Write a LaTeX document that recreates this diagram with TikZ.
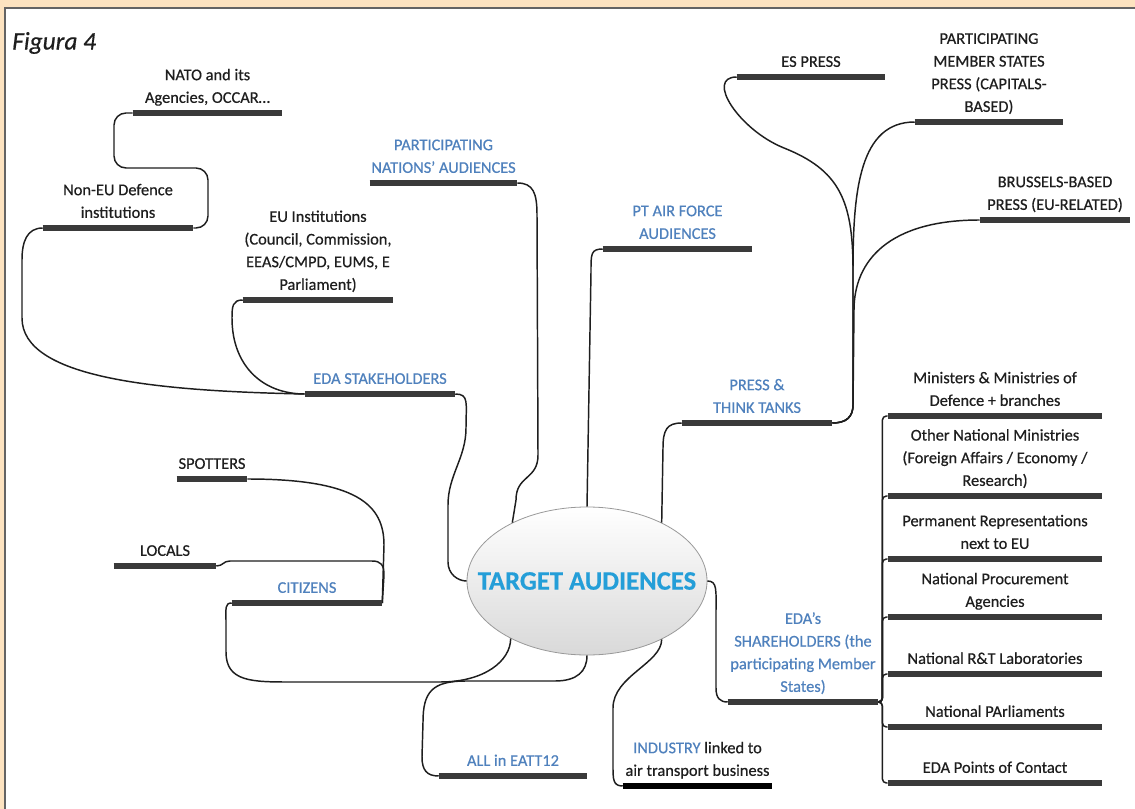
\documentclass[tikz,border=0pt]{standalone}
\usepackage{fontspec}
\setmainfont{Carlito}[FakeBold=0.5]
\usepackage{tikz}
\usetikzlibrary{shapes.geometric}
\definecolor{taBlue}{RGB}{79,129,189}
\definecolor{taCyan}{RGB}{36,158,216}
\definecolor{taBar}{RGB}{58,58,58}
\definecolor{taInk}{RGB}{30,30,30}
\definecolor{taFrame}{RGB}{253,227,192}
\definecolor{taEdge}{RGB}{100,100,100}

\begin{document}
\begin{tikzpicture}[x=0.75pt, y=-0.75pt,
  every node/.style={anchor=south, align=center, inner xsep=0pt, inner ysep=2.3pt, text=taInk, font=\fontsize{12.3}{17}\selectfont},
  topic/.style={minimum width=#1*0.75pt},
  sub/.style={minimum width=#1*0.75pt, text=taBlue},
  hub/.style={ellipse, anchor=center, inner sep=0pt, draw=black!40, line width=0.6pt, top color=white, bottom color=black!15, minimum width=180pt, minimum height=111pt, text=taCyan, font=\fontsize{20}{22}\selectfont\bfseries},
  link/.style={draw=taInk, line width=1.1pt},
  bar/.style={draw=taBar, line width=3.8pt}]
  \useasboundingbox (0,0) rectangle (1135,809);
  \fill[taFrame] (0,0) rectangle (1135,809);
  \fill[white] (5,8) rectangle (1135,809);
  \draw[taEdge, line width=1.2pt] (5,809) -- (5,8) -- (1135,8);

  \node[anchor=west, inner sep=0pt, font=\fontsize{19}{21}\selectfont\itshape] (figura) at (12,43) {Figura 4};

  \node[hub] (ta) at (587,581) {\makebox[0pt]{TARGET AUDIENCES}};

  \node[topic=149] (nato) at (207.5,113) {NATO and its\\Agencies, OCCAR\ldots\strut};
  \node[topic=150] (noneu) at (118,228) {Non-EU Defence\\institutions\strut};
  \node[topic=150] (euinst) at (318,300) {EU Institutions\\(Council, Commission,\\EEAS/CMPD, EUMS, E\\Parliament)\strut};
  \node[sub=147] (partn) at (443.5,183) {PARTICIPATING\\NATIONS' AUDIENCES\strut};
  \node[sub=149] (ptaf) at (677.5,249) {PT AIR FORCE\\AUDIENCES\strut};
  \node[sub=150] (edastk) at (380,394) {EDA STAKEHOLDERS\strut};
  \node[topic=70] (spotters) at (212,479) {SPOTTERS\strut};
  \node[topic=102] (locals) at (165,566) {LOCALS\strut};
  \node[sub=150] (citizens) at (307,603) {CITIZENS\strut};
  \node[sub=148] (all) at (513,776) {ALL in EATT12\strut};
  \node[topic=149] (industry) at (697.5,786) {{\color{taBlue}INDUSTRY} linked to\\air transport business\strut};
  \node[sub=150] (edash) at (803,702) {EDA's\\SHAREHOLDERS (the\\participating Member\\States)\strut};
  \node[sub=150] (press) at (757,423) {PRESS \&\\THINK TANKS\strut};
  \node[topic=148] (espress) at (811,77) {ES PRESS\strut};
  \node[topic=148] (pmspress) at (989,122) {PARTICIPATING\\MEMBER STATES\\PRESS (CAPITALS-\\BASED)\strut};
  \node[topic=150] (brussels) at (1055,220) {BRUSSELS-BASED\\PRESS (EU-RELATED)\strut};

  \node[topic=214] (mod) at (995,416) {Ministers \& Ministries of\\Defence + branches\strut};
  \node[topic=214] (othmin) at (995,496) {Other National Ministries\\(Foreign Affairs / Economy /\\Research)\strut};
  \node[topic=214] (permrep) at (995,559) {Permanent Representations\\next to EU\strut};
  \node[topic=214] (procure) at (995,617) {National Procurement\\Agencies\strut};
  \node[topic=214] (labs) at (995,674) {National R\&T Laboratories\strut};
  \node[topic=214] (parl) at (995,727) {National PArliaments\strut};
  \node[topic=214] (poc) at (995,783) {EDA Points of Contact\strut};

  \draw[link, rounded corners=9pt] (nato.south west) -- (114,113) -- (114,168) -- (208,168) -- (208,228) -- (noneu.south east);
  \draw[link] (noneu.south west) .. controls +(-16,0) and +(0,-18) .. (22,260) -- (22,318) .. controls +(0,60) and +(-150,-3) .. (edastk.south west);
  \draw[link] (euinst.south west) .. controls +(-10,0) and +(0,-12) .. (232,318) .. controls +(0,48) and +(-42,0) .. (edastk.south west);
  \draw[link] (edastk.south east) .. controls +(14,0) and +(0,-25) .. (466,428) .. controls +(0,30) and +(0,-30) .. (448,505) -- (448,562) .. controls +(0,12) and +(-9,0) .. (ta.west);
  \draw[link] (partn.south east) .. controls +(16,0) and +(0,-22) .. (537,215) -- (538,455) .. controls +(0,25) and +(0,-25) .. (516,500) -- (ta.142);
  \draw[link] (ptaf.south west) .. controls +(-12,0) and +(0,-18) .. (591,272) -- (ta.north);
  \draw[link] (press.south west) .. controls +(-15,0) and +(0,-18) .. (663,448) -- (ta.38);
  \draw[link] (espress.south west) .. controls +(-32,0) and +(-45,-18) .. (784,148) .. controls +(55,22) and +(0,-70) .. (853,270) -- (853,405) .. controls +(0,12) and +(14,0) .. (press.south east);
  \draw[link] (pmspress.south west) .. controls +(-55,0) and +(0,-80) .. (853,270) -- (853,405) .. controls +(0,12) and +(14,0) .. (press.south east);
  \draw[link] (brussels.south west) .. controls +(-90,0) and +(0,-50) .. (854,310) -- (853,405) .. controls +(0,12) and +(14,0) .. (press.south east);
  \draw[link] (spotters.south east) .. controls +(110,0) and +(0,-40) .. (384,545) -- (citizens.south east);
  \draw[link] (locals.south east) .. controls +(7,0) and +(-7,0) .. (230,561) -- (372,561) .. controls +(9,0) and +(0,-10) .. (384,575) -- (citizens.south east);
  \draw[link] (citizens.south west) .. controls +(-7,0) and +(0,-14) .. (226,622) -- (226,652) .. controls +(0,30) and +(-40,0) .. (292,682) -- (440,682) .. controls +(45,0) and +(0,22) .. (ta.217);
  \draw[link] (ta.south) .. controls +(0,16) and +(22,0) .. (555,681) -- (466,681) .. controls +(-34,0) and +(0,-30) .. (423,722) -- (422,757) .. controls +(0,13) and +(-12,0) .. (all.south west);
  \draw[link] (industry.south west) .. controls +(-10,0) and +(0,14) .. (613,765) -- (613,708) .. controls +(0,-32) and +(0,24) .. (ta.-38);
  \draw[link] (ta.east) .. controls +(10,0) and +(0,-22) .. (716,612) -- (716,688) .. controls +(0,10) and +(-8,0) .. (edash.south west);
  \foreach \n in {mod,othmin,permrep,procure,labs,parl,poc}
    \draw[link, rounded corners=3pt] (edash.south east) -| ([xshift=-4pt]\n.south west) -- (\n.south west);

  \foreach \n in {nato,noneu,euinst,partn,ptaf,edastk,spotters,locals,citizens,all,edash,press,espress,pmspress,brussels,mod,othmin,permrep,procure,labs,parl,poc}
    \draw[bar] (\n.south west) -- (\n.south east);
  \draw[bar, draw=black, line width=5pt] (industry.south west) -- (industry.south east);
\end{tikzpicture}
\end{document}
